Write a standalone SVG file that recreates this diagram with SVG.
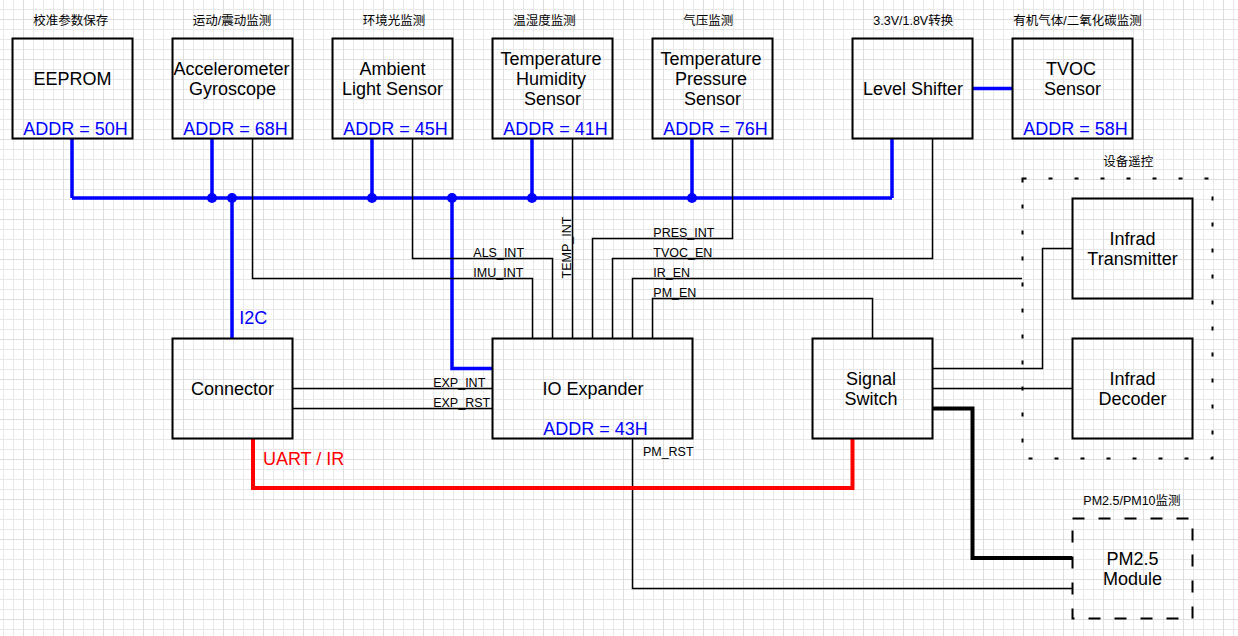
<svg xmlns="http://www.w3.org/2000/svg" width="1238" height="636" viewBox="0 0 1238 636">
<style>
.box{fill:none;stroke:#000;stroke-width:2}
.dash1{fill:none;stroke:#000;stroke-width:2;stroke-dasharray:4 22}
.dash2{fill:none;stroke:#000;stroke-width:2;stroke-dasharray:12 14}
.bus{fill:none;stroke:#0000ff;stroke-width:3.5}
.thin{fill:none;stroke:#000;stroke-width:1.5}
.thick{fill:none;stroke:#000;stroke-width:4}
.red{fill:none;stroke:#ff0000;stroke-width:4}
.dot{fill:#0000ff}
.t{font-family:"Liberation Sans",Arial,sans-serif;font-size:18px;fill:#000;text-anchor:middle}
.a{fill:#0000ff}
.r{fill:#ff0000}
.s{font-family:"Liberation Sans",Arial,sans-serif;font-size:12.5px;fill:#000}
.cn{font-family:"Liberation Sans","Noto Sans CJK SC",sans-serif;font-size:12.5px;fill:#000}
</style>
<defs>
<pattern id="minor" x="3" y="9" width="10" height="10" patternUnits="userSpaceOnUse">
<path d="M0.5 0V10M0 0.5H10" stroke="#e8e8e8" stroke-width="1" fill="none"/>
</pattern>
<pattern id="major" x="23" y="19" width="40" height="40" patternUnits="userSpaceOnUse">
<path d="M0.5 0V40M0 0.5H40" stroke="#dedede" stroke-width="1" fill="none"/>
</pattern>
</defs>
<rect width="1238" height="636" fill="#ffffff"/>
<rect width="1238" height="636" fill="url(#minor)"/>
<rect width="1238" height="636" fill="url(#major)"/>

<g id="connectors">
<path class="bus" d="M72 198H892M72 138V198M212 138V198M372 138V198M532 138V198M692 138V198M892 138V198"/>
<path class="bus" d="M232 198V338"/>
<path class="bus" d="M452 198V368.5H492"/>
<path class="bus" d="M972 88.5H1012"/>
<circle class="dot" cx="212" cy="198" r="5"/>
<circle class="dot" cx="232" cy="198" r="5"/>
<circle class="dot" cx="372" cy="198" r="5"/>
<circle class="dot" cx="452" cy="198" r="5"/>
<circle class="dot" cx="532" cy="198" r="5"/>
<circle class="dot" cx="692" cy="198" r="5"/>
<text class="s" x="473.3" y="257">ALS_INT</text>
<text class="s" x="473.3" y="277">IMU_INT</text>
<text class="s" transform="translate(571 247.5) rotate(-90)" text-anchor="middle">TEMP_INT</text>
<text class="s" x="653.3" y="237">PRES_INT</text>
<text class="s" x="653.3" y="257">TVOC_EN</text>
<text class="s" x="653.3" y="277">IR_EN</text>
<text class="s" x="653.3" y="297">PM_EN</text>
<text class="s" x="433.2" y="386.8">EXP_INT</text>
<text class="s" x="433.2" y="406.8">EXP_RST</text>
<text class="s" x="642.9" y="455.5">PM_RST</text>
<path class="thin" d="M252.5 138V278.5H532.5V338"/>
<path class="thin" d="M412.5 138V258.5H552.5V338"/>
<path class="thin" d="M572.5 138V338"/>
<path class="thin" d="M732.5 138V238.5H592.5V338"/>
<path class="thin" d="M932.5 138V258.5H612.5V338"/>
<path class="thin" d="M1022 278.5H632.5V338"/>
<path class="thin" d="M872.5 338V298.5H652.5V338"/>
<path class="thin" d="M292 388.5H492M292 408.5H492"/>
<path class="thin" d="M632.5 438V588.5H1072"/>
<path class="thin" d="M932 368.5H1042.5V248.5H1072"/>
<path class="thin" d="M932 388.5H1072"/>
<path class="thick" d="M932 408.5H972.5V558H1072"/>
<path class="red" d="M253 438V488H852.5V438"/>
<text class="t a" x="239.3" y="324.3" style="text-anchor:start">I2C</text>
<text class="t r" x="262.9" y="465" style="text-anchor:start">UART / IR</text>
</g>

<g id="eeprom">
<text class="cn" x="33.3" y="25">校准参数保存</text>
<rect class="box" x="12.5" y="38.5" width="120" height="100"/>
<text class="t" x="72.5" y="85">EEPROM</text>
<text class="t a" x="75.5" y="135">ADDR = 50H</text>
</g>
<g id="accel">
<text class="cn" x="192.7" y="25">运动/震动监测</text>
<rect class="box" x="172.5" y="38.5" width="120" height="100"/>
<text class="t" x="231.5" y="75">Accelerometer</text>
<text class="t" x="232.5" y="95">Gyroscope</text>
<text class="t a" x="235.5" y="135">ADDR = 68H</text>
</g>
<g id="ambient">
<text class="cn" x="362.7" y="25">环境光监测</text>
<rect class="box" x="332.5" y="38.5" width="120" height="100"/>
<text class="t" x="392.5" y="75">Ambient</text>
<text class="t" x="392.5" y="95">Light Sensor</text>
<text class="t a" x="395.5" y="135">ADDR = 45H</text>
</g>
<g id="temphum">
<text class="cn" x="513.3" y="25">温湿度监测</text>
<rect class="box" x="492.5" y="38.5" width="120" height="100"/>
<text class="t" x="551" y="65">Temperature</text>
<text class="t" x="551" y="85">Humidity</text>
<text class="t" x="552.5" y="105">Sensor</text>
<text class="t a" x="555.5" y="135">ADDR = 41H</text>
</g>
<g id="temppres">
<text class="cn" x="683.3" y="25">气压监测</text>
<rect class="box" x="652.5" y="38.5" width="120" height="100"/>
<text class="t" x="711" y="65">Temperature</text>
<text class="t" x="711" y="85">Pressure</text>
<text class="t" x="712.5" y="105">Sensor</text>
<text class="t a" x="715.5" y="135">ADDR = 76H</text>
</g>
<g id="levelshifter">
<text class="cn" x="873.3" y="25">3.3V/1.8V转换</text>
<rect class="box" x="852.5" y="38.5" width="120" height="100"/>
<text class="t" x="913" y="95">Level Shifter</text>
</g>
<g id="tvoc">
<text class="cn" x="1013.3" y="25">有机气体/二氧化碳监测</text>
<rect class="box" x="1012.5" y="38.5" width="120" height="100"/>
<text class="t" x="1071" y="75">TVOC</text>
<text class="t" x="1072.5" y="95">Sensor</text>
<text class="t a" x="1075.5" y="135">ADDR = 58H</text>
</g>
<g id="connector">
<rect class="box" x="172.5" y="338.5" width="120" height="100"/>
<text class="t" x="232.5" y="395">Connector</text>
</g>
<g id="ioexpander">
<rect class="box" x="492.5" y="338.5" width="200" height="100"/>
<text class="t" x="593" y="395">IO Expander</text>
<text class="t a" x="595.5" y="435">ADDR = 43H</text>
</g>
<g id="signalswitch">
<rect class="box" x="812.5" y="338.5" width="120" height="100"/>
<text class="t" x="871" y="385">Signal</text>
<text class="t" x="871" y="405">Switch</text>
</g>
<g id="remote">
<text class="cn" x="1103.3" y="166">设备遥控</text>
<rect class="dash1" x="1022.5" y="178.5" width="190" height="280"/>
</g>
<g id="irtx">
<rect class="box" x="1072.5" y="198.5" width="120" height="100"/>
<text class="t" x="1132.5" y="245">Infrad</text>
<text class="t" x="1132.5" y="265">Transmitter</text>
</g>
<g id="irdec">
<rect class="box" x="1072.5" y="338.5" width="120" height="100"/>
<text class="t" x="1132.5" y="385">Infrad</text>
<text class="t" x="1132.5" y="405">Decoder</text>
</g>
<g id="pm25">
<text class="cn" x="1083.3" y="505">PM2.5/PM10监测</text>
<rect class="dash2" x="1072.5" y="518.5" width="120" height="100"/>
<text class="t" x="1132.5" y="565">PM2.5</text>
<text class="t" x="1132.5" y="585">Module</text>
</g>
</svg>
